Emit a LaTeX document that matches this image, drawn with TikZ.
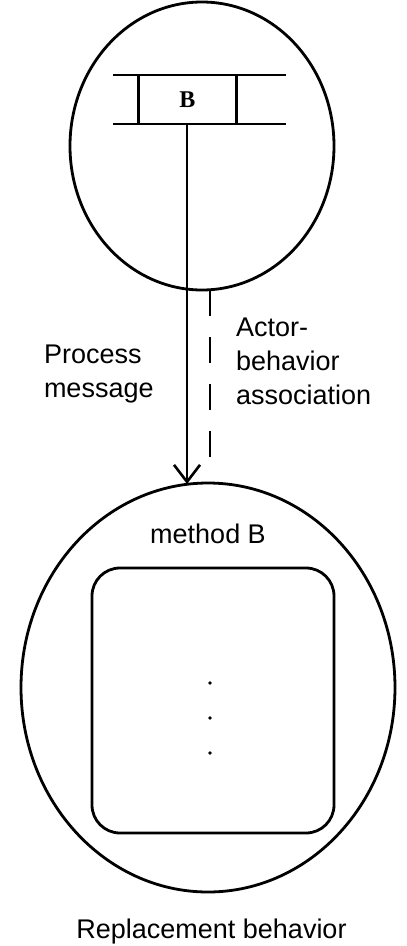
\documentclass[tikz,border=0pt]{standalone}
\usepackage{fontspec}
\setmainfont{Liberation Sans}
\newfontfamily\serifB{Liberation Serif}
\usetikzlibrary{shapes.geometric,arrows.meta}

\tikzset{
  heavy/.style={line width=2.8pt},
  blob/.style={ellipse, draw, heavy, inner sep=0pt, outer sep=0pt},
  label/.style={inner sep=0pt, outer sep=0pt, font=\fontsize{27}{34}\selectfont, align=left},
  msgline/.style={line width=2.6pt, -{Straight Barb[length=17pt, width=26pt, line width=2.6pt]}},
  assoc/.style={line width=2.6pt, dash pattern=on 26pt off 21pt},
  dotmark/.style={circle, fill, inner sep=0pt, minimum size=3.8pt}
}

\begin{document}
\begin{tikzpicture}[x=1pt, y=-1pt]
  \useasboundingbox (0,0) rectangle (407,946);

  % actor with its mail queue
  \node[blob, minimum width=264pt, minimum height=288pt] (actor) at (202,146) {};
  \draw[heavy] (113,75) -- (286,75);
  \draw[heavy] (113,124) -- (286,124);
  \node[minimum width=97pt, minimum height=49pt, inner sep=0pt] (slot) at (187.5,99.5)
    {\serifB\bfseries\fontsize{24}{24}\selectfont B};
  \draw[heavy] (slot.north west) -- (slot.south west);
  \draw[heavy] (slot.north east) -- (slot.south east);

  % replacement behavior
  \node[blob, minimum width=374pt, minimum height=409pt] (repl) at (208,687.5) {};
  \node[inner sep=0pt, font=\fontsize{27}{27}\selectfont, anchor=base] (mname) at (208,543) {method B};
  \draw[heavy, rounded corners=28pt] (92,568) rectangle (334,833);
  \node[dotmark] (d1) at (210,683) {};
  \node[dotmark] (d2) at (210,718) {};
  \node[dotmark] (d3) at (210,753) {};
  \node[inner sep=0pt, font=\fontsize{27}{27}\selectfont, anchor=base] (caption) at (211.5,938) {Replacement behavior};

  % connectors
  \coordinate (qout) at (187,124);
  \coordinate (qin) at (187,484);
  \draw[msgline] (qout) -- (qin);
  \coordinate (aout) at (210,290);
  \coordinate (ain) at (210,458);
  \draw[assoc] (aout) -- (ain);

  \node[label, anchor=north west] (proc) at (44,345) {Process\\message};
  \node[label, anchor=north west] (abassoc) at (236,318) {Actor-\\behavior\\association};
\end{tikzpicture}
\end{document}
